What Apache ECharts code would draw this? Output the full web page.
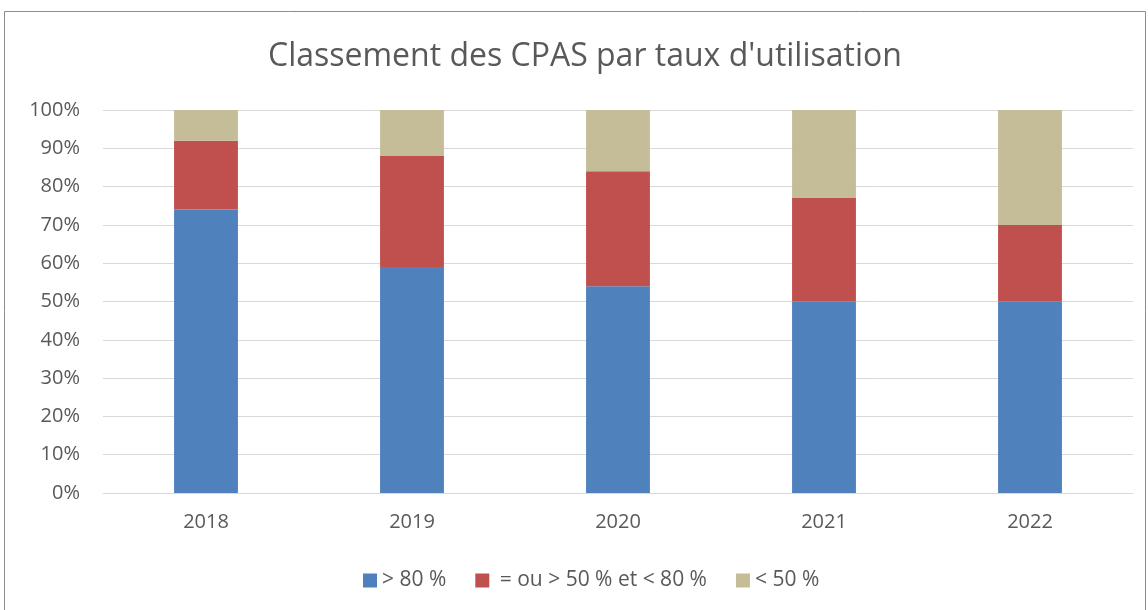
<!DOCTYPE html>
<html>
<head>
<meta charset="utf-8">
<script src="https://cdn.jsdelivr.net/npm/echarts@6/dist/echarts.min.js"></script>
<style>
  html, body { margin: 0; padding: 0; background: #ffffff; }
  #chart { width: 1148px; height: 610px; }
</style>
</head>
<body>
<div id="chart"></div>
<script>
const YEARS = ["2018", "2019", "2020", "2021", "2022"];
const SERIES_NAMES = ["> 80 %", " = ou > 50 % et < 80 %", "< 50 %"];
const ABOVE_80 = [74, 59, 54, 50, 50];
const BETWEEN_50_80 = [18, 29, 30, 27, 20];
const BELOW_50 = [8, 12, 16, 23, 30];
const COLORS = ["#4f81bd", "#c0504d", "#c4bd97"];

const textColor = "#595959";
const fontFamily = "'Open Sans', 'Noto Sans', sans-serif";

const chart = echarts.init(document.getElementById("chart"));

const values = [ABOVE_80, BETWEEN_50_80, BELOW_50];

const series = SERIES_NAMES.map((name, i) => ({
  name,
  type: "bar",
  stack: "total",
  barWidth: "31%",
  itemStyle: { color: COLORS[i] },
  data: values[i]
}));

chart.setOption({
  animation: false,
  backgroundColor: "#ffffff",
  textStyle: { fontFamily },
  title: {
    text: "Classement des CPAS par taux d'utilisation",
    left: 263,
    top: 36,
    textStyle: {
      color: textColor,
      fontSize: 32,
      fontWeight: "normal",
      fontFamily
    }
  },
  legend: {
    top: 565,
    left: 358,
    itemWidth: 14,
    itemHeight: 14,
    itemGap: 29,
    icon: "rect",
    textStyle: { color: textColor, fontSize: 21, fontFamily }
  },
  grid: {
    left: 103,
    right: 15,
    top: 110,
    height: 383,
    containLabel: false
  },
  xAxis: {
    type: "category",
    data: YEARS,
    axisLine: { lineStyle: { color: "#d9d9d9", width: 1 } },
    axisTick: { show: false },
    axisLabel: { color: textColor, fontSize: 20, margin: 19, fontFamily }
  },
  yAxis: {
    type: "value",
    min: 0,
    max: 100,
    interval: 10,
    axisLine: { show: false },
    axisTick: { show: false },
    axisLabel: {
      color: textColor,
      fontSize: 20,
      margin: 23,
      fontFamily,
      formatter: "{value}%"
    },
    splitLine: { lineStyle: { color: "#d9d9d9", width: 1 } }
  },
  series,
  graphic: [
    {
      type: "rect",
      silent: true,
      z: -10,
      shape: { x: 4.5, y: 11.5, width: 1141, height: 620 },
      style: { fill: "none", stroke: "#8c8c8c", lineWidth: 1 }
    }
  ]
});
</script>
</body>
</html>
